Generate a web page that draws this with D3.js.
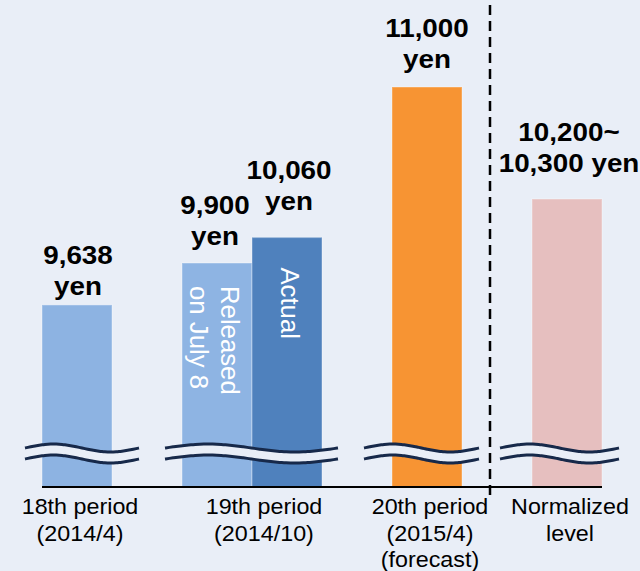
<!DOCTYPE html>
<html>
<head>
<meta charset="utf-8">
<script src="https://cdn.jsdelivr.net/npm/d3@7"></script>
<style>
  html, body { margin: 0; padding: 0; background: #e9eef7; }
  svg { display: block; font-family: "Liberation Sans", Arial, sans-serif; }
</style>
</head>
<body>
<div id="chart"></div>
<script>
// Average unit price per period (yen)
const barKeys = ["18th", "19th-released", "19th-actual", "20th", "normalized"];
const barValues = [9638, 9900, 10060, 11000, 10300];
const barColors = ["#8db3e2", "#8eb4e3", "#4f81bd", "#f79433", "#e6bfbf"];
const valueLabels = [
  ["9,638", "yen"],
  ["9,900", "yen"],
  ["10,060", "yen"],
  ["11,000", "yen"],
  ["10,200~", "10,300 yen"]
];
const innerLabels = [[], ["Released", "on July 8"], ["Actual"], [], []];

// Category groups along the axis and the bars in each
const categoryLabels = [
  ["18th period", "(2014/4)"],
  ["19th period", "(2014/10)"],
  ["20th period", "(2015/4)", "(forecast)"],
  ["Normalized", "level"]
];
const categoryBars = [[0], [1, 2], [3], [4]];

const W = 640, H = 571;
const bg = "#e9eef7";

const svg = d3.select("#chart").append("svg")
  .attr("width", W).attr("height", H);

svg.append("rect").attr("width", W).attr("height", H).attr("fill", bg);

// Slot layout: spacer slots separate the groups
const slots = ["18th", "gap1", "19th-released", "19th-actual", "gap2", "20th", "gap3", "normalized"];
const x = d3.scaleBand().domain(slots).range([42, 602]).padding(0);
const bw = x.bandwidth();

// Broken value axis: bars start at the baseline, cut by wave marks
const y = d3.scaleLinear().domain([8500, 11000]).range([487, 87]);

// Bars
svg.append("g").selectAll("rect")
  .data(barKeys)
  .join("rect")
  .attr("x", k => x(k))
  .attr("y", (k, i) => y(barValues[i]))
  .attr("width", bw)
  .attr("height", (k, i) => y.range()[0] - y(barValues[i]))
  .attr("fill", (k, i) => barColors[i])
  .attr("stroke", "rgba(255,255,255,0.25)")
  .attr("stroke-width", 1.5);

// Text helper with a slight horizontal stretch along the reading direction
function stretchedText(g, tx, ty, str, opts) {
  return g.append("text")
    .attr("transform", `translate(${tx},${ty}) rotate(${opts.rotate || 0}) scale(${opts.sx || 1},1)`)
    .attr("text-anchor", opts.anchor || "middle")
    .attr("font-size", opts.size)
    .attr("font-weight", opts.weight || "normal")
    .attr("fill", opts.fill || "#000")
    .text(str);
}

// Value labels above bars
const labelLift = [10, 18, 27, 19, 27];
const labelShift = [1, -2, 2, 0, 2];
const lineGap = 31;
const gLabels = svg.append("g");
barKeys.forEach((k, i) => {
  const cx = x(k) + bw / 2 + labelShift[i];
  const base = y(barValues[i]) - labelLift[i];
  const lines = valueLabels[i];
  lines.forEach((s, j) => {
    stretchedText(gLabels, cx, base - (lines.length - 1 - j) * lineGap, s,
      { size: 26, weight: "bold", sx: 1.07 });
  });
});

// Rotated labels inside the 19th-period bars
const gInner = svg.append("g");
barKeys.forEach((k, i) => {
  const lines = innerLabels[i];
  if (!lines.length) return;
  const top = y(barValues[i]) + (i === 2 ? 30 : 23);
  const right = x(k) + bw / 2 + (lines.length === 1 ? -6 : 4);
  lines.forEach((s, j) => {
    stretchedText(gInner, right - j * 31, top, s,
      { size: 25, rotate: 90, anchor: "start", fill: "#ffffff", sx: 1.03 });
  });
});

// Wave break marks across each group (left / right overhang per group)
const waveYs = [448, 459];
const waveOverhang = [[17, 27], [17, 16], [28, 17], [32, 17]];
function wavePoints(x0, x1, yc) {
  const n = 40;
  return d3.range(n + 1).map(t => {
    const u = t / n;
    return [x0 + (x1 - x0) * u, yc - 4 * Math.sin(2 * Math.PI * u)];
  });
}
const gWave = svg.append("g");
const waveLine = d3.line().curve(d3.curveBasis);
categoryBars.forEach((bars, ci) => {
  const x0 = x(barKeys[bars[0]]) - waveOverhang[ci][0];
  const x1 = x(barKeys[bars[bars.length - 1]]) + bw + waveOverhang[ci][1];
  const top = wavePoints(x0, x1, waveYs[0]);
  const bot = wavePoints(x0, x1, waveYs[1]);
  gWave.append("path")
    .attr("d", waveLine(top.concat(bot.slice().reverse())) + "Z")
    .attr("fill", bg);
  [top, bot].forEach(pts => {
    gWave.append("path")
      .attr("d", waveLine(pts))
      .attr("fill", "none")
      .attr("stroke", "#17294a")
      .attr("stroke-width", 3);
  });
});

// Baseline
svg.append("line")
  .attr("x1", x.range()[0]).attr("x2", x.range()[1])
  .attr("y1", y.range()[0]).attr("y2", y.range()[0])
  .attr("stroke", "#000").attr("stroke-width", 2);

// Dashed divider before the normalized level
const divX = x("gap3") + bw * 0.4;
svg.append("line")
  .attr("x1", divX).attr("x2", divX)
  .attr("y1", 5).attr("y2", y.range()[0] + 10)
  .attr("stroke", "#000").attr("stroke-width", 2.5)
  .attr("stroke-dasharray", "10,6");

// Category labels under the axis
const gCat = svg.append("g");
categoryBars.forEach((bars, ci) => {
  const xs = bars.map(b => x(barKeys[b]));
  let cx = (d3.min(xs) + d3.max(xs) + bw) / 2 + 3;
  if (bars.length > 1) cx += 9;
  categoryLabels[ci].forEach((s, j) => {
    stretchedText(gCat, cx, 514 + j * 26.5, s, { size: 22, sx: 1.06 });
  });
});
</script>
</body>
</html>
